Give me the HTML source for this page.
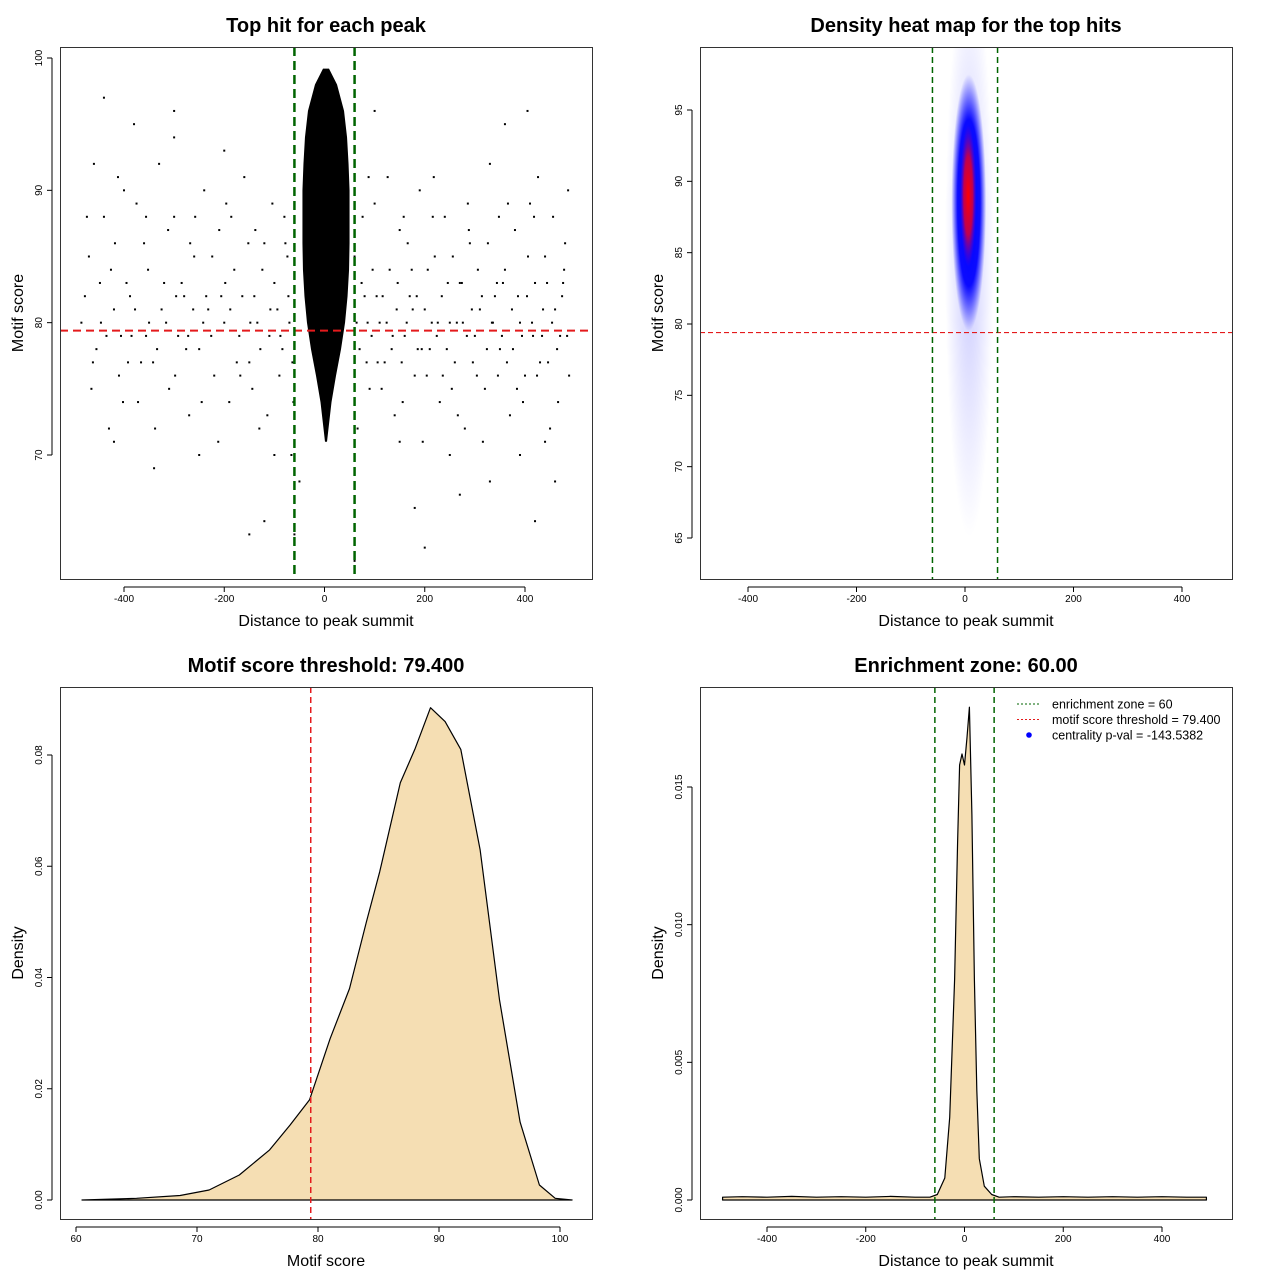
<!DOCTYPE html>
<html><head><meta charset="utf-8">
<style>
html,body{margin:0;padding:0;background:#fff;}
svg{display:block;font-family:"Liberation Sans",sans-serif;}
</style></head>
<body>
<svg id="root" width="1280" height="1280" viewBox="0 0 1280 1280" xmlns="http://www.w3.org/2000/svg">
<defs>
<radialGradient id="gBlueOuter" cx="50%" cy="50%" r="50%">
<stop offset="0" stop-color="#0000ff" stop-opacity="0.35"/>
<stop offset="1" stop-color="#0000ff" stop-opacity="0"/>
</radialGradient>
<radialGradient id="gBlue" cx="50%" cy="50%" r="50%">
<stop offset="0" stop-color="#0000ff" stop-opacity="1"/>
<stop offset="0.65" stop-color="#0000ff" stop-opacity="0.95"/>
<stop offset="1" stop-color="#0000ff" stop-opacity="0"/>
</radialGradient>
<radialGradient id="gRed" cx="50%" cy="50%" r="50%">
<stop offset="0" stop-color="#ff0000" stop-opacity="1"/>
<stop offset="0.55" stop-color="#e00030" stop-opacity="0.85"/>
<stop offset="1" stop-color="#8000c0" stop-opacity="0"/>
</radialGradient>
<clipPath id="clip2"><rect x="700" y="47" width="532" height="532"/></clipPath>
</defs>
</svg>
<script>
// ---------- DATA ----------
const bgPoints = "-470:85 -455:78 -440:88 -430:72 -420:81 -410:76 -400:90 -395:83 -385:79 -372:74 -360:86 -350:80 -342:77 -330:92 -320:83 -310:75 -300:88 -292:79 -280:82 -270:73 -260:85 -250:78 -240:90 -232:81 -220:76 -210:87 -200:80 -190:74 -180:84 -170:79 -160:91 -150:77 -140:82 -130:72 -120:86 -110:79 -100:83 -90:76 -80:88 -70:80 -62:74 60:85 70:78 80:82 90:75 100:89 110:80 120:77 130:84 140:73 150:87 160:79 170:82 180:76 190:90 200:81 210:78 220:85 230:74 240:88 250:80 260:77 270:83 280:72 290:86 300:79 310:81 320:75 330:92 340:82 350:78 360:84 370:73 380:87 390:80 400:76 410:89 420:83 430:77 440:85 450:72 460:81 470:79 480:86 488:76 -485:80 -465:75 -448:83 -435:79 -418:86 -402:74 -388:82 -375:89 -366:77 -352:84 -338:72 -325:81 -312:87 -298:76 -285:83 -272:79 -258:88 -245:74 -236:82 -224:85 -212:71 -198:83 -186:88 -175:77 -164:82 -152:86 -144:75 -134:80 -124:84 -114:73 -104:89 -94:81 -84:78 -74:85 -66:70 66:72 76:88 86:80 96:84 106:77 116:82 126:91 136:79 146:83 156:74 166:86 176:81 186:78 196:71 206:84 216:88 226:80 236:76 246:83 256:85 266:73 276:80 286:89 296:77 306:84 316:71 326:86 336:80 346:76 356:83 366:89 376:78 386:82 396:74 406:85 416:79 426:91 436:81 446:77 456:88 466:74 476:83 486:90 -460:92 -380:95 -300:94 -200:93 -150:64 -120:65 -50:68 180:66 200:63 270:67 330:68 420:65 460:68 -440:97 -300:96 100:96 -340:69 -250:70 -60:64 60:62 390:70 440:71 -420:71 -100:70 150:71 250:70 360:95 405:96 -478:82 -462:77 -446:80 -426:84 -406:79 -392:77 -378:81 -356:79 -334:78 -316:80 -296:82 -276:78 -262:81 -242:80 -226:79 -206:82 -188:81 -168:76 -148:80 -128:78 -108:81 -88:79 -72:82 -64:77 64:80 74:83 84:77 94:79 104:82 114:75 124:80 134:78 144:81 154:77 164:80 174:84 184:82 194:78 204:76 214:80 224:79 234:82 244:78 254:75 264:80 274:83 284:79 294:81 304:76 314:82 324:78 334:80 344:83 354:79 364:77 374:81 384:75 394:79 404:82 414:80 424:76 434:79 444:83 454:80 464:78 474:82 484:79 -474:88 -412:91 -356:88 -268:86 -196:89 -138:87 -78:86 88:91 158:88 218:91 288:87 348:88 418:88 478:84";
const coreScores = [99.2, 98, 96, 94, 92, 90, 88, 86, 84, 82, 80, 78, 76, 74, 72, 71];
const coreHalfW  = [6, 22, 36, 42, 45, 47, 47, 47, 46, 43, 38, 30, 20, 11, 5, 2];
const heatCx   = [8, 7, 6];
const heatCy   = [85, 88.5, 89];
const heatRx   = [45, 32, 15];
const heatRy   = [20, 9, 5];
const heatAlpha= [0.6, 1, 1];
const scoreX = [60.5,65,68.6,71,73.5,76,77.7,79.3,81,82.6,84,85.1,86.8,88,89.3,90.5,91.8,93.4,95,96.7,98.3,99.6,101];
const scoreD = [0,0.0003,0.0008,0.0018,0.0045,0.009,0.0135,0.018,0.029,0.038,0.05,0.059,0.075,0.081,0.0885,0.086,0.081,0.063,0.036,0.014,0.0027,0.0003,0];
const distX = [-490,-450,-400,-350,-300,-250,-200,-150,-100,-70,-55,-40,-30,-20,-14,-10,-5,0,5,10,15,20,25,30,40,55,70,100,150,200,250,300,350,400,450,490];
const distD = [0.0001,0.00012,0.0001,0.00013,0.0001,0.00012,0.0001,0.00013,0.0001,0.0001,0.0002,0.0008,0.003,0.008,0.013,0.0158,0.0162,0.0158,0.0168,0.0179,0.014,0.008,0.004,0.0015,0.0005,0.0002,0.0001,0.00012,0.0001,0.00012,0.0001,0.00012,0.0001,0.00012,0.0001,0.0001];
const xTicks1 = [-400,-200,0,200,400];
const yTicks1 = [70,80,90,100];
const xTicks2 = [-400,-200,0,200,400];
const yTicks2 = [65,70,75,80,85,90,95];
const xTicks3 = [60,70,80,90,100];
const yTicks3 = [0,0.02,0.04,0.06,0.08];
const yTicks3Labels = ["0.00","0.02","0.04","0.06","0.08"];
const xTicks4 = [-400,-200,0,200,400];
const yTicks4 = [0,0.005,0.01,0.015];
const yTicks4Labels = ["0.000","0.005","0.010","0.015"];
const threshold = 79.4;
const zone = 60;

// ---------- HELPERS ----------
const NS = "http://www.w3.org/2000/svg";
const root = document.getElementById('root');
function mk(tag, attrs, parent, text){
  const e = document.createElementNS(NS, tag);
  for (const k in attrs) e.setAttribute(k, attrs[k]);
  if (text !== undefined) e.textContent = text;
  (parent || root).appendChild(e);
  return e;
}
function lin(d0,d1,r0,r1){ return v => r0 + (v-d0)*(r1-r0)/(d1-d0); }

function panel(name, box, sx, sy, xt, xtl, yt, ytl, title, xlab, ylab){
  const g = mk('g', {});
  
  
  const t = mk('text', {x: box.x + box.w/2, y: box.y - 15, 'text-anchor':'middle', 'font-size':20, 'font-weight':'bold'}, g, title);
  
  
  const xg = mk('g', {}, g);
  
  
  const ay = box.y + box.h + 8;
  mk('line', {x1: sx(xt[0]), x2: sx(xt[xt.length-1]), y1: ay, y2: ay, stroke:'#000'}, xg);
  xt.forEach((v,i)=>{
    mk('line', {x1:sx(v), x2:sx(v), y1:ay, y2:ay+5, stroke:'#000'}, xg);
    const l = mk('text', {x:sx(v), y:ay+15, 'text-anchor':'middle', 'font-size':10}, xg, xtl[i]);
    
    
  });
  const xl = mk('text', {x: box.x + box.w/2, y: box.y + box.h + 47, 'text-anchor':'middle', 'font-size':16}, g, xlab);
  
  
  const yg = mk('g', {}, g);
  
  
  const ax = box.x - 8;
  mk('line', {x1: ax, x2: ax, y1: sy(yt[0]), y2: sy(yt[yt.length-1]), stroke:'#000'}, yg);
  yt.forEach((v,i)=>{
    mk('line', {x1:ax-5, x2:ax, y1:sy(v), y2:sy(v), stroke:'#000'}, yg);
    const y = sy(v);
    const l = mk('text', {x:ax-10, y:y, 'text-anchor':'middle', 'font-size':10, transform:`rotate(-90 ${ax-10} ${y})`}, yg, ytl[i]);
    
    
  });
  const cy = box.y + box.h/2, cx = box.x - 37;
  const yl = mk('text', {x:cx, y:cy, 'text-anchor':'middle', 'font-size':16, transform:`rotate(-90 ${cx} ${cy})`}, g, ylab);
  
  
  return g;
}
function frame(g, box){
  const r = mk('rect', {x:box.x+0.5, y:box.y+0.5, width:box.w, height:box.h, fill:'none', stroke:'#333'}, g);
  
  
}
function vline(g, x, y0, y1, color, w, dash, name){
  const l = mk('line', {x1:x, x2:x, y1:y0, y2:y1, stroke:color, 'stroke-width':w, 'stroke-dasharray':dash}, g);
  
  
}
function hline(g, y, x0, x1, color, w, dash, name){
  const l = mk('line', {x1:x0, x2:x1, y1:y, y2:y, stroke:color, 'stroke-width':w, 'stroke-dasharray':dash}, g);
  
  
}

// ---------- PANEL 1 ----------
{
  const box = {x:60, y:47, w:532, h:532};
  const sx = lin(-400, 400, 124, 525);
  const sy = lin(70, 100, 455, 58);
  const g = panel('scatter-panel', box, sx, sy, xTicks1, xTicks1.map(String), yTicks1, yTicks1.map(String),
    'Top hit for each peak', 'Distance to peak summit', 'Motif score');
  const pts = mk('g', {}, g);
  
  
  bgPoints.split(' ').forEach(p=>{
    const [a,b] = p.split(':').map(Number);
    mk('rect', {x:sx(a)-1, y:sy(b)-1, width:2, height:2, fill:'#000'}, pts);
  });
  let d = '';
  coreScores.forEach((s,i)=>{ d += (i?'L':'M') + sx(coreHalfW[i]+3) + ',' + sy(s); });
  for (let i=coreScores.length-1;i>=0;i--) d += 'L' + sx(-coreHalfW[i]+3) + ',' + sy(coreScores[i]);
  const core = mk('path', {d: d+'Z', fill:'#000'}, g);
  
  
  hline(g, sy(threshold), box.x, box.x+box.w, '#e41a1c', 2, '8,5', 'threshold-line');
  vline(g, sx(-zone), box.y, box.y+box.h, '#006400', 2.5, '9,5', 'zone-left-line');
  vline(g, sx(zone), box.y, box.y+box.h, '#006400', 2.5, '9,5', 'zone-right-line');
  frame(g, box);
}

// ---------- PANEL 2 ----------
{
  const box = {x:700, y:47, w:532, h:532};
  const sx = lin(-400, 400, 748, 1182);
  const sy = lin(65, 95, 538, 110);
  const g = panel('heatmap-panel', box, sx, sy, xTicks2, xTicks2.map(String), yTicks2, yTicks2.map(String),
    'Density heat map for the top hits', 'Distance to peak summit', 'Motif score');
  const hg = mk('g', {'clip-path':'url(#clip2)'}, g);
  
  
  const fills = ['url(#gBlueOuter)', 'url(#gBlue)', 'url(#gRed)'];
  heatCx.forEach((c,i)=>{
    const e = mk('ellipse', {cx:sx(c), cy:sy(heatCy[i]), rx:Math.abs(sx(heatRx[i])-sx(0)), ry:Math.abs(sy(heatRy[i])-sy(0)), fill:fills[i], opacity:heatAlpha[i]}, hg);
    
    
  });
  hline(g, sy(threshold), box.x, box.x+box.w, '#e41a1c', 1.2, '5,3', 'threshold-line');
  vline(g, sx(-zone), box.y, box.y+box.h, '#006400', 1.5, '6,4', 'zone-left-line');
  vline(g, sx(zone), box.y, box.y+box.h, '#006400', 1.5, '6,4', 'zone-right-line');
  frame(g, box);
}

// ---------- PANEL 3 ----------
{
  const box = {x:60, y:687, w:532, h:532};
  const sx = lin(60, 100, 76, 560);
  const sy = lin(0, 0.08, 1200, 755);
  const g = panel('score-density-panel', box, sx, sy, xTicks3, xTicks3.map(String), yTicks3, yTicks3Labels,
    'Motif score threshold: 79.400', 'Motif score', 'Density');
  let d = '';
  scoreX.forEach((v,i)=>{ d += (i?'L':'M') + sx(v).toFixed(1) + ',' + sy(scoreD[i]).toFixed(1); });
  const a = mk('path', {d: d+'Z', fill:'#f5deb3', stroke:'#000', 'stroke-width':1.2, 'stroke-linejoin':'round'}, g);
  
  
  vline(g, sx(threshold), box.y, box.y+box.h, '#e41a1c', 1.5, '6,4', 'threshold-line');
  frame(g, box);
}

// ---------- PANEL 4 ----------
{
  const box = {x:700, y:687, w:532, h:532};
  const sx = lin(-400, 400, 767, 1162);
  const sy = lin(0, 0.015, 1200, 787);
  const g = panel('distance-density-panel', box, sx, sy, xTicks4, xTicks4.map(String), yTicks4, yTicks4Labels,
    'Enrichment zone: 60.00', 'Distance to peak summit', 'Density');
  let d = '';
  distX.forEach((v,i)=>{ d += (i?'L':'M') + sx(v).toFixed(1) + ',' + sy(distD[i]).toFixed(1); });
  d += 'L' + sx(distX[distX.length-1]) + ',' + sy(0) + 'L' + sx(distX[0]) + ',' + sy(0);
  const a = mk('path', {d: d+'Z', fill:'#f5deb3', stroke:'#000', 'stroke-width':1.2, 'stroke-linejoin':'round'}, g);
  
  
  vline(g, sx(-zone), box.y, box.y+box.h, '#006400', 1.5, '6,4', 'zone-left-line');
  vline(g, sx(zone), box.y, box.y+box.h, '#006400', 1.5, '6,4', 'zone-right-line');
  frame(g, box);
  const lg = mk('g', {}, g);
  
  
  const items = [['#006400','line','enrichment zone = 60'],['#e41a1c','line','motif score threshold = 79.400'],['#0000ff','dot','centrality p-val = -143.5382']];
  items.forEach((it,i)=>{
    const y = 704 + i*15.5;
    const e = mk('g', {}, lg);
    
    
    if (it[1]==='line') mk('line', {x1:1017, x2:1041, y1:y, y2:y, stroke:it[0], 'stroke-dasharray':'2,2'}, e);
    else mk('circle', {cx:1029, cy:y, r:2.8, fill:it[0]}, e);
    mk('text', {x:1052, y:y+4.5, 'font-size':12.5}, e, it[2]);
  });
}
</script>
</body></html>
